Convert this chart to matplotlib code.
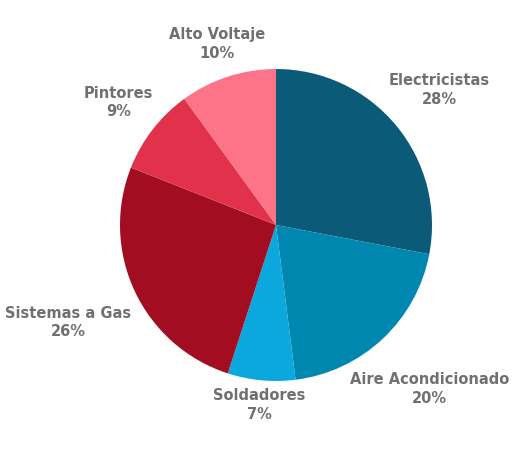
import numpy as np
import matplotlib
matplotlib.use("Agg")
import matplotlib.pyplot as plt

categories = ["Electricistas", "Aire Acondicionado", "Soldadores",
              "Sistemas a Gas", "Pintores", "Alto Voltaje"]
shares = [28, 20, 7, 26, 9, 10]
colors = ["#0b5a78", "#0087b0", "#0aa8dc", "#a30d22", "#e2314a", "#fd7488"]
# how far out each label sits (multiple of radius)
label_dist = [1.36, 1.44, 1.16, 1.47, 1.28, 1.22]

plt.rcParams['font.family'] = ['DejaVu Sans']

W, H = 520, 450
cx, cy, r = 276, 225, 156
fig = plt.figure(figsize=(W / 100, H / 100), dpi=100)
ax = fig.add_axes([(cx - r) / W, (H - cy - r) / H, 2 * r / W, 2 * r / H])

wedges, _ = ax.pie(shares, colors=colors, startangle=90, counterclock=False,
                   wedgeprops=dict(linewidth=0))
ax.set_xlim(-1, 1)
ax.set_ylim(-1, 1)
ax.set_aspect('equal')
ax.axis('off')

for w, name, val, d in zip(wedges, categories, shares, label_dist):
    mid = np.deg2rad((w.theta1 + w.theta2) / 2)
    ax.text(d * np.cos(mid), d * np.sin(mid), "%s\n%d%%" % (name, val),
            ha='center', va='center', fontsize=10.5, fontweight='bold',
            color='#707070', clip_on=False, linespacing=1.3)

fig.savefig("out.png", dpi=100)
